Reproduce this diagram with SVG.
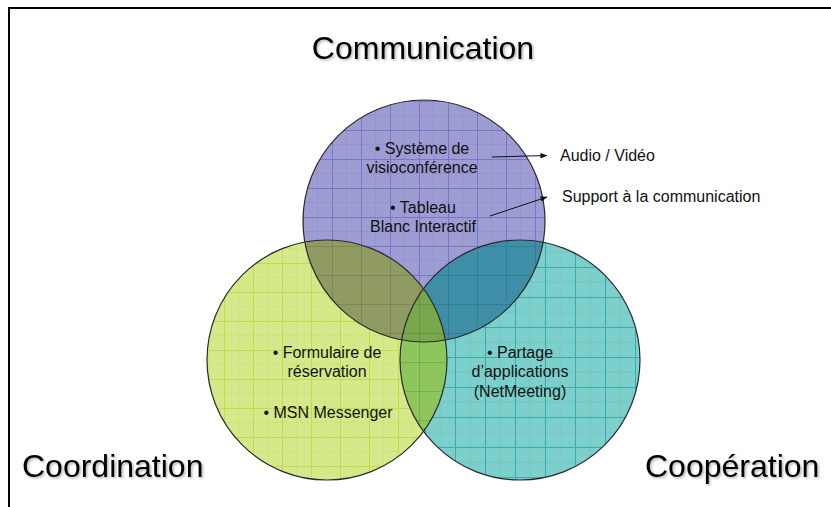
<svg xmlns="http://www.w3.org/2000/svg" width="831" height="507" viewBox="0 0 831 507">
<style>
.big{font-family:"Liberation Sans",Arial,sans-serif;font-size:32px;fill:#000;filter:url(#sh)}
.t{font-family:"Liberation Sans",Arial,sans-serif;font-size:16px;fill:#111;text-anchor:middle}
.lbl{font-family:"Liberation Sans",Arial,sans-serif;font-size:16px;fill:#111}
.ol{fill:none;stroke:#2a2a2a;stroke-width:1.2}
.conn{stroke:#111;stroke-width:1;fill:none;marker-end:url(#ah)}
</style>
<defs>
<filter id="sh" x="-5%" y="-20%" width="110%" height="140%"><feDropShadow dx="1.5" dy="1.5" stdDeviation="0.8" flood-color="#000" flood-opacity="0.3"/></filter>
<marker id="ah" viewBox="0 0 8 8" refX="7.5" refY="4" markerWidth="7" markerHeight="7" markerUnits="userSpaceOnUse" orient="auto"><path d="M0,0.8 L8,4 L0,7.2 Z" fill="#111"/></marker>
<clipPath id="cB"><circle cx="424" cy="221" r="121"/></clipPath>
<clipPath id="cG"><circle cx="327" cy="360" r="120"/></clipPath>
<clipPath id="cT"><circle cx="520" cy="360" r="120"/></clipPath>
<pattern id="gB" patternUnits="userSpaceOnUse" x="332" y="130" width="29" height="29"><path d="M14.5,0V29M0,14.5H29" stroke="#9593d0" stroke-width="1"/><path d="M0.5,0V29M0,0.5H29" stroke="#7876c6" stroke-width="1"/></pattern>
<pattern id="gG" patternUnits="userSpaceOnUse" x="224" y="263" width="29" height="29"><path d="M14.5,0V29M0,14.5H29" stroke="#cfe57a" stroke-width="1"/><path d="M0.5,0V29M0,0.5H29" stroke="#bfdb4e" stroke-width="1"/></pattern>
<pattern id="gT" patternUnits="userSpaceOnUse" x="575" y="297" width="30" height="30"><path d="M15,0V30M0,15H30" stroke="#70c8c5" stroke-width="1"/><path d="M0.5,0V30M0,0.5H30" stroke="#3aacab" stroke-width="1"/></pattern>
<pattern id="gD" patternUnits="userSpaceOnUse" x="332" y="130" width="29" height="29"><path d="M0.5,0V29M0,0.5H29" stroke="#000" stroke-opacity="0.12" stroke-width="1"/></pattern>
</defs>
<path d="M9,507V8H831" fill="none" stroke="#000" stroke-width="2"/>
<g id="title-communication"><text class="big" x="423" y="59" text-anchor="middle">Communication</text></g>
<g id="title-coordination"><text class="big" x="22" y="477">Coordination</text></g>
<g id="title-cooperation"><text class="big" x="645" y="477">Coopération</text></g>
<g id="circle-communication">
<circle cx="424" cy="221" r="121" fill="#9d9cd3"/>
<rect x="300" y="98" width="250" height="250" fill="url(#gB)" clip-path="url(#cB)"/>
</g>
<g id="circle-cooperation">
<circle cx="520" cy="360" r="120" fill="#7dcfcc"/>
<rect x="398" y="238" width="245" height="245" fill="url(#gT)" clip-path="url(#cT)"/>
</g>
<g id="circle-coordination">
<circle cx="327" cy="360" r="120" fill="#d5e98a"/>
<rect x="205" y="238" width="245" height="245" fill="url(#gG)" clip-path="url(#cG)"/>
</g>
<g id="overlaps">
<g clip-path="url(#cB)"><circle cx="520" cy="360" r="120" fill="#3f8ea7"/><rect x="398" y="238" width="245" height="245" fill="url(#gD)" clip-path="url(#cT)"/></g>
<g clip-path="url(#cB)"><circle cx="327" cy="360" r="120" fill="#8f9b62"/><rect x="205" y="238" width="245" height="245" fill="url(#gD)" clip-path="url(#cG)"/></g>
<g clip-path="url(#cT)"><circle cx="327" cy="360" r="120" fill="#8dc65a"/><rect x="205" y="238" width="245" height="245" fill="url(#gD)" clip-path="url(#cG)"/></g>
<g clip-path="url(#cB)"><g clip-path="url(#cT)"><circle cx="327" cy="360" r="120" fill="#77a84c"/><rect x="205" y="238" width="245" height="245" fill="url(#gD)" clip-path="url(#cG)"/></g></g>
</g>
<g id="outlines">
<circle class="ol" cx="424" cy="221" r="121"/>
<circle class="ol" cx="520" cy="360" r="120"/>
<circle class="ol" cx="327" cy="360" r="120"/>
</g>
<g id="node-communication-text">
<text class="t" x="422" y="154">• Système de</text>
<text class="t" x="422" y="173">visioconférence</text>
<text class="t" x="423" y="213">• Tableau</text>
<text class="t" x="423" y="232">Blanc Interactif</text>
</g>
<g id="node-coordination-text">
<text class="t" x="327" y="358">• Formulaire de</text>
<text class="t" x="327" y="377">réservation</text>
<text class="t" x="328" y="418">• MSN Messenger</text>
</g>
<g id="node-cooperation-text">
<text class="t" x="520" y="358">• Partage</text>
<text class="t" x="520" y="377">d’applications</text>
<text class="t" x="520" y="397">(NetMeeting)</text>
</g>
<g id="connectors">
<line class="conn" x1="492" y1="157" x2="547" y2="155.5"/>
<line class="conn" x1="490" y1="216" x2="547" y2="197"/>
</g>
<g id="label-audio"><text class="lbl" x="560" y="161">Audio / Vidéo</text></g>
<g id="label-support"><text class="lbl" x="562" y="202">Support à la communication</text></g>
</svg>
